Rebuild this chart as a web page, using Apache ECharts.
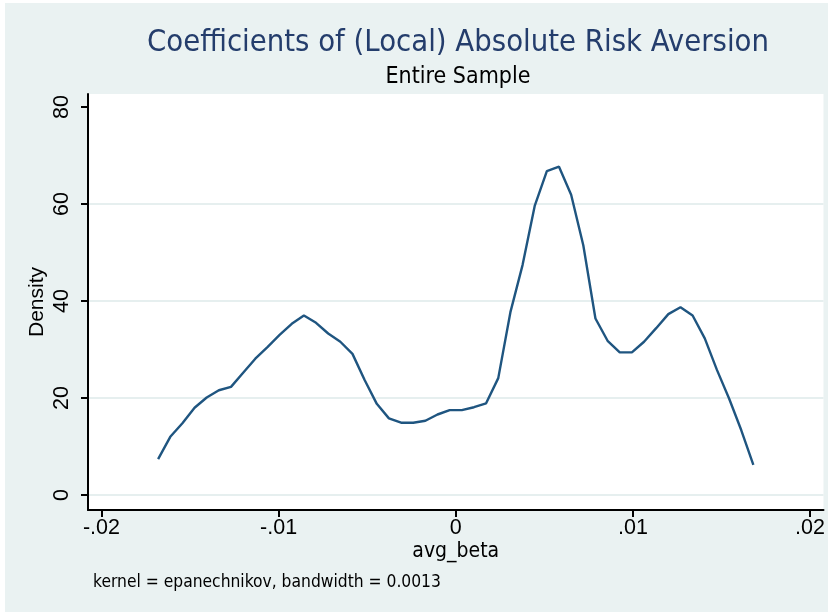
<!DOCTYPE html>
<html>
<head>
<meta charset="utf-8">
<script src="https://cdn.jsdelivr.net/npm/echarts@6/dist/echarts.min.js"></script>
<style>
  html, body { margin: 0; padding: 0; background: #ffffff; }
  #chart { position: absolute; left: 5px; top: 3px; width: 823px; height: 609px; }
</style>
</head>
<body>
<div id="chart"></div>
<script>
// avg_beta evaluation points (kernel density grid)
const avgBeta = [
  -0.016800, -0.016114, -0.015429, -0.014743, -0.014057, -0.013371, -0.012686, -0.012000,
  -0.011314, -0.010629, -0.009943, -0.009257, -0.008571, -0.007886, -0.007200, -0.006514,
  -0.005829, -0.005143, -0.004457, -0.003771, -0.003086, -0.002400, -0.001714, -0.001029,
  -0.000343, 0.000343, 0.001029, 0.001714, 0.002400, 0.003086, 0.003771, 0.004457,
  0.005143, 0.005829, 0.006514, 0.007200, 0.007886, 0.008571, 0.009257, 0.009943,
  0.010629, 0.011314, 0.012000, 0.012686, 0.013371, 0.014057, 0.014743, 0.015429,
  0.016114, 0.016800
];
// estimated density values
const density = [
  7.4, 12.0, 14.8, 18.0, 20.1, 21.6, 22.3, 25.2,
  28.1, 30.5, 33.0, 35.3, 37.0, 35.5, 33.3, 31.6,
  29.1, 23.7, 18.8, 15.8, 14.9, 14.9, 15.3, 16.6,
  17.5, 17.5, 18.1, 18.9, 24.1, 37.7, 47.4, 59.6,
  66.8, 67.7, 61.9, 51.5, 36.4, 31.8, 29.4, 29.4,
  31.6, 34.4, 37.3, 38.7, 37.0, 32.3, 25.8, 19.9,
  13.4, 6.2
];
const xTicks = [-0.02, -0.01, 0, 0.01, 0.02];
const xTickLabels = ['-.02', '-.01', '0', '.01', '.02'];
const yTicks = [0, 20, 40, 60, 80];
const yGridLines = [0, 20, 40, 60];

const titleText = 'Coefficients of (Local) Absolute Risk Aversion';
const subtitleText = 'Entire Sample';
const noteText = 'kernel = epanechnikov, bandwidth = 0.0013';

const narrow = "'Liberation Sans Narrow', 'DejaVu Sans Condensed', 'Liberation Sans', sans-serif";
const regular = "'Liberation Sans', Arial, sans-serif";

const chart = echarts.init(document.getElementById('chart'), null, { renderer: 'canvas' });
const option = {
  backgroundColor: '#eaf2f2',
  animation: false,
  title: [
    { text: titleText, left: 448, top: 20, textAlign: 'center',
      textStyle: { fontFamily: narrow, fontSize: 30.7, fontWeight: 'normal', color: '#243d6c' } },
    { text: subtitleText, left: 448, top: 58, textAlign: 'center',
      textStyle: { fontFamily: narrow, fontSize: 23, fontWeight: 'normal', color: '#000' } },
    { text: noteText, left: 83, top: 566,
      textStyle: { fontFamily: narrow, fontSize: 17.3, fontWeight: 'normal', color: '#000' } }
  ],
  grid: { left: 83, right: 1, top: 91, bottom: 102, show: true, backgroundColor: '#ffffff', borderWidth: 0, containLabel: false },
  xAxis: {
    type: 'value', min: -0.020758, max: 0.020758,
    name: 'avg_beta', nameLocation: 'middle', nameGap: 31, nameMoveOverlap: false,
    nameTextStyle: { fontFamily: narrow, fontSize: 21, color: '#000' },
    axisLine: { show: true, onZero: false, lineStyle: { color: '#000', width: 2 } },
    axisTick: { show: true, length: 7, customValues: xTicks, lineStyle: { color: '#000', width: 2 } },
    axisLabel: { customValues: xTicks, margin: 7, fontFamily: regular, fontSize: 21.5, color: '#000',
      formatter: v => { const i = xTicks.findIndex(t => Math.abs(t - v) < 1e-9); return i >= 0 ? xTickLabels[i] : ''; } },
    splitLine: { show: false }
  },
  yAxis: [
    {
      type: 'value', min: -3.09, max: 82.68,
      name: 'Density', nameLocation: 'middle', nameGap: 40, nameRotate: 90, nameMoveOverlap: false,
      nameTextStyle: { fontFamily: regular, fontSize: 21, color: '#000' },
      axisLine: { show: true, onZero: false, lineStyle: { color: '#000', width: 2 } },
      axisTick: { show: true, length: 7, customValues: yTicks, lineStyle: { color: '#000', width: 2 } },
      axisLabel: { customValues: yTicks, rotate: 90, margin: 15, fontFamily: regular, fontSize: 21.5, color: '#000' },
      splitLine: { show: false }
    },
    {
      type: 'value', min: -3.09, max: 82.68, position: 'left',
      axisLine: { show: false }, axisLabel: { show: false },
      axisTick: { show: false, customValues: yGridLines },
      splitLine: { show: true, lineStyle: { color: '#e6efef', width: 2 } }
    }
  ],
  series: [{
    type: 'line', yAxisIndex: 0,
    data: avgBeta.map((x, i) => [x, density[i]]),
    showSymbol: false, symbol: 'none', smooth: false,
    lineStyle: { color: '#1f5580', width: 2.4 }, z: 5
  }]
};
chart.setOption(option);
</script>
</body>
</html>
